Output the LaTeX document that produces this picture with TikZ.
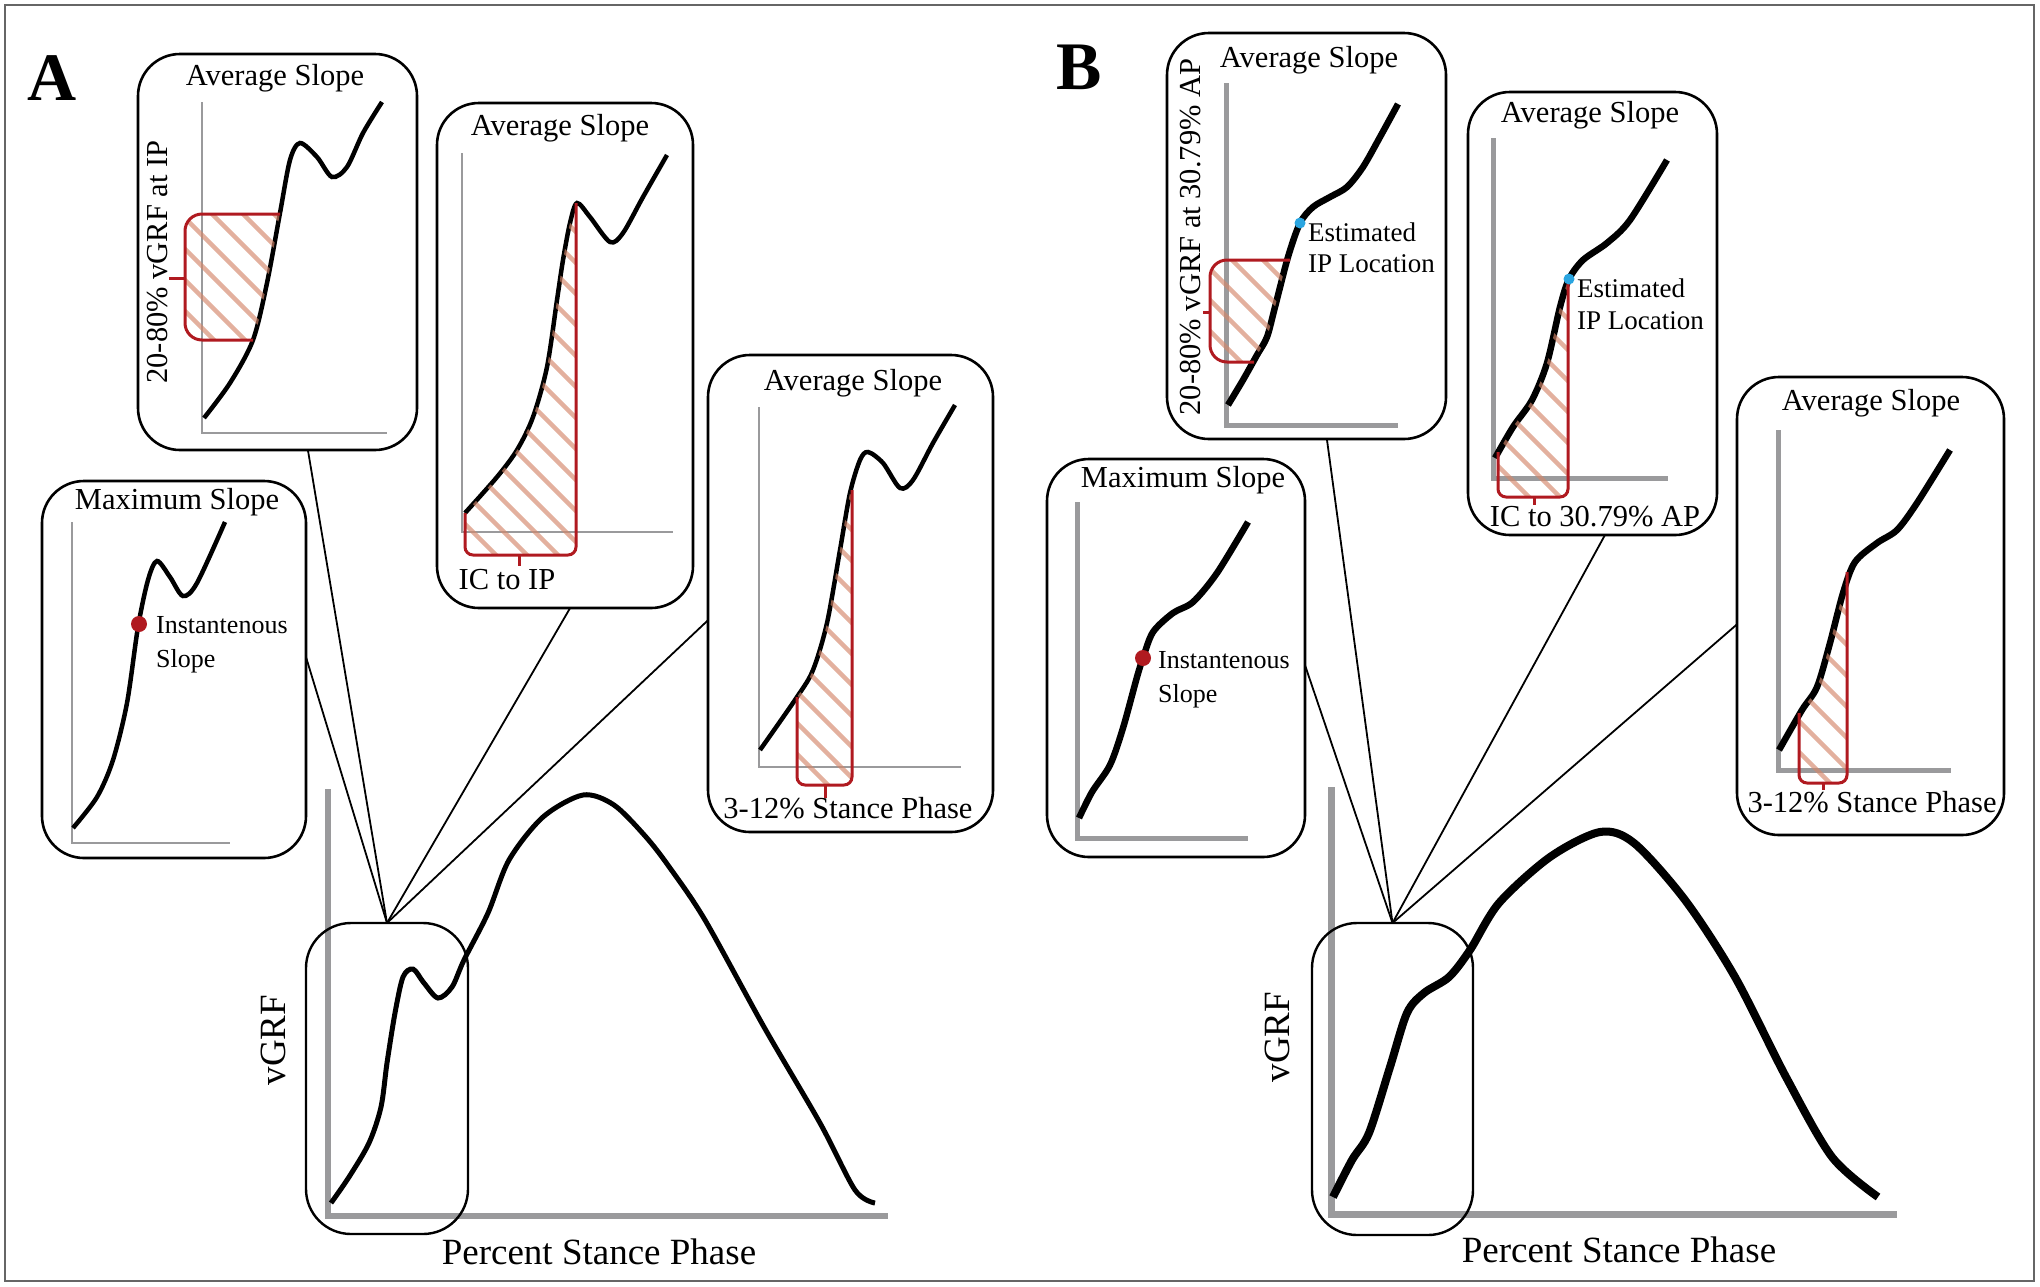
\documentclass[tikz,border=0pt]{standalone}
\usepackage{fontspec}
\setmainfont{Liberation Serif}
\usetikzlibrary{calc}
\definecolor{redb}{HTML}{B01A20}
\definecolor{hatchc}{HTML}{D4876A}
\definecolor{axg}{HTML}{9A9A9C}
\definecolor{blued}{HTML}{2AA5E0}
\newcommand\myhatch[4]{\foreach \c in {#1,#2,...,#3} \draw[hatchln] (\c-300,#4-300) -- (\c+450,#4+450);}
\begin{document}
\begin{tikzpicture}[x=1pt,y=-1pt,
  panelbox/.style={draw=black, line width=2.6pt, rounded corners=42pt, rectangle, inner sep=0pt, outer sep=0pt},
  zoombox/.style={draw=black, line width=2.4pt, rounded corners=45pt, rectangle, inner sep=0pt, outer sep=0pt},
  conn/.style={draw=black, line width=1.8pt},
  axA/.style={draw=axg, line width=2pt},
  axB/.style={draw=axg, line width=5pt},
  axMA/.style={draw=axg, line width=6pt},
  axMB/.style={draw=axg, line width=7pt},
  crvA/.style={draw=black, line width=4.5pt},
  crvB/.style={draw=black, line width=6.5pt},
  crvMA/.style={draw=black, line width=5pt},
  crvMB/.style={draw=black, line width=8pt},
  title/.style={font=\fontsize{30.5}{36}\selectfont, inner sep=0pt},
  small/.style={font=\fontsize{26}{34}\selectfont, align=left, inner sep=0pt, anchor=west},
  axlbl/.style={font=\fontsize{37}{44}\selectfont, inner sep=0pt},
  plbl/.style={font=\bfseries\fontsize{68}{80}\selectfont, inner sep=0pt},
  brk/.style={draw=redb, line width=3pt},
  hatchln/.style={draw=hatchc, line width=4.5pt, opacity=0.65},
  reddot/.style={fill=redb, circle, inner sep=0pt, minimum size=16pt},
  bluedot/.style={fill=blued, circle, inner sep=0pt, minimum size=11pt}
]
\useasboundingbox (0,0) rectangle (2040,1286);
\fill[white] (0,0) rectangle (2040,1286);
\draw[draw=black!60, line width=1.5pt] (5,5) rectangle (2034,1281);

% ================= PANEL A =================
\node[plbl] (labA) at (52,78) {A};

% ---- A1: Average slope 20-80% ----
\node[panelbox, minimum width=279pt, minimum height=396pt] (a1) at (277.5,252) {};
\node[title] (a1t) at (275,78) {Average Slope};
\draw[axA] (202,102) -- (202,433) -- (387,433);
\draw[crvA] plot[smooth] coordinates {(204,418) (230,383) (253,340) (267,283) (280,213) (290,160) (300,143) (317,157) (332,177) (347,167) (363,133) (382,102)};
\begin{scope}
\clip[rounded corners=17pt] (185,214) rectangle (300,340);
\clip plot[smooth] coordinates {(204,418) (230,383) (253,340) (267,283) (280,213) (290,160) (300,143) (317,157) (332,177) (347,167) (363,133) (382,102)} -- (382,0) -- (100,0) -- (100,418) -- cycle;
\myhatch{57}{88}{305}{214}
\end{scope}
\draw[brk, rounded corners=17pt] (280,214) -- (185,214) -- (185,340) -- (253,340);
\draw[brk] (169,278) -- (185,278);
\node[title, rotate=90] (a1l) at (158,262) {20-80\% vGRF at IP};

% ---- A2: Average slope IC to IP ----
\node[panelbox, minimum width=256pt, minimum height=505pt] (a2) at (565,355.5) {};
\node[title] (a2t) at (560,128) {Average Slope};
\draw[axA] (462,153) -- (462,532) -- (673,532);
\draw[crvA] plot[smooth] coordinates {(465,513) (497,477) (517,450) (533,417) (547,367) (557,300) (563,260) (570,223) (577,203) (590,217) (610,242) (623,233) (643,197) (667,155)};
\begin{scope}
\clip[rounded corners=8pt] (465,200) rectangle (576,555);
\clip plot[smooth] coordinates {(465,513) (497,477) (517,450) (533,417) (547,367) (557,300) (563,260) (570,223) (577,203) (590,217) (610,242) (623,233) (643,197) (667,155)} -- (667,1286) -- (400,1286) -- (400,513) -- cycle;
\myhatch{113}{144}{580}{203}
\end{scope}
\draw[brk, rounded corners=8pt] (465,513) -- (465,555) -- (576,555) -- (576,203);
\draw[brk] (519,555) -- (519,566);
\node[title] (a2b) at (507,580) {IC to IP};

% ---- A3: Average slope 3-12% ----
\node[panelbox, minimum width=285pt, minimum height=477pt] (a3) at (850.5,593.5) {};
\node[title] (a3t) at (853,383) {Average Slope};
\draw[axA] (759,407) -- (759,767) -- (961,767);
\draw[crvA] plot[smooth] coordinates {(760,750) (797,697) (813,670) (827,623) (840,550) (850,493) (860,460) (868,452) (883,463) (900,488) (913,480) (933,443) (955,405)};
\begin{scope}
\clip[rounded corners=8pt] (797,450) rectangle (852,785);
\clip plot[smooth] coordinates {(760,750) (797,697) (813,670) (827,623) (840,550) (850,493) (860,460) (868,452) (883,463) (900,488) (913,480) (933,443) (955,405)} -- (955,1286) -- (700,1286) -- (700,750) -- cycle;
\myhatch{462}{493}{860}{450}
\end{scope}
\draw[brk, rounded corners=8pt] (797,697) -- (797,785) -- (852,785) -- (852,490);
\draw[brk] (825,785) -- (825,798);
\node[title] (a3b) at (848,808) {3-12\% Stance Phase};

% ---- A max slope ----
\node[panelbox, minimum width=264pt, minimum height=377pt] (am) at (174,669.5) {};
\node[title] (amt) at (177,502) {Maximum Slope};
\draw[axA] (72,522) -- (72,843) -- (230,843);
\draw[crvA] plot[smooth] coordinates {(73,828) (97,797) (113,760) (127,703) (138,627) (148,580) (157,561) (170,577) (183,596) (197,583) (225,522)};
\node[reddot] (amd) at (139,624) {};
\node[small] (amtxt) at (156,644.5) {Instantenous\\Slope};

% ---- A main graph ----
\draw[axMA] (328,789) -- (328,1216) -- (888,1216);
\draw[crvMA] plot[smooth] coordinates {(331,1203) (349,1177) (369,1143) (381,1107) (387,1063) (395,1013) (403,977) (413,969) (424,983) (438,998) (452,987) (464,960) (488,913) (509,860) (543,817) (583,795) (614,805) (646,837) (670,868) (705,920) (764,1027) (820,1123) (855,1190) (875,1203)};
\node[zoombox, minimum width=162pt, minimum height=311pt] (za) at (387,1078.5) {};
\node[axlbl, rotate=90] (avg) at (273,1040) {vGRF};
\node[axlbl] (apsp) at (599,1252) {Percent Stance Phase};

\draw[conn] (za.north) -- ($(a1.south west)!0.609!(a1.south east)$);
\draw[conn] (za.north) -- ($(am.north east)!0.467!(am.south east)$);
\draw[conn] (za.north) -- ($(a2.south west)!0.52!(a2.south east)$);
\draw[conn] (za.north) -- ($(a3.north west)!0.556!(a3.south west)$);

% ================= PANEL B =================
\node[plbl] (labB) at (1079,67) {B};

% ---- B1 ----
\node[panelbox, minimum width=279pt, minimum height=406pt] (b1) at (1306.5,236) {};
\node[title] (b1t) at (1309,60) {Average Slope};
\draw[axB] (1226,83) -- (1226,425) -- (1398,425);
\draw[crvB] plot[smooth] coordinates {(1228,405) (1243,380) (1257,355) (1267,337) (1275,307) (1288,257) (1300,223) (1313,207) (1330,197) (1347,187) (1363,167) (1380,137) (1398,104)};
\begin{scope}
\clip[rounded corners=17pt] (1210,260) rectangle (1300,362);
\clip plot[smooth] coordinates {(1228,405) (1243,380) (1257,355) (1267,337) (1275,307) (1288,257) (1300,223) (1313,207) (1330,197) (1347,187) (1363,167) (1380,137) (1398,104)} -- (1398,0) -- (1150,0) -- (1150,405) -- cycle;
\myhatch{1108}{1139}{1310}{260}
\end{scope}
\draw[brk, rounded corners=17pt] (1290,260) -- (1210,260) -- (1210,362) -- (1254,362);
\draw[brk] (1203,312) -- (1210,312);
\node[bluedot] (b1d) at (1300,223) {};
\node[small, font=\fontsize{27}{31}\selectfont] (b1txt) at (1308,247.5) {Estimated\\IP Location};
\node[title, rotate=90] (b1l) at (1191,237) {20-80\% vGRF at 30.79\% AP};

% ---- B2 ----
\node[panelbox, minimum width=249pt, minimum height=443pt] (b2) at (1592.5,313.5) {};
\node[title] (b2t) at (1590,115) {Average Slope};
\draw[axB] (1493,138) -- (1493,478) -- (1668,478);
\draw[crvB] plot[smooth] coordinates {(1495,458) (1513,427) (1532,400) (1547,363) (1560,307) (1569,279) (1583,260) (1607,243) (1630,220) (1667,160)};
\begin{scope}
\clip[rounded corners=8pt] (1498,270) rectangle (1568,497);
\clip plot[smooth] coordinates {(1495,458) (1513,427) (1532,400) (1547,363) (1560,307) (1569,279) (1583,260) (1607,243) (1630,220) (1667,160)} -- (1667,1286) -- (1450,1286) -- (1450,458) -- cycle;
\myhatch{1280}{1311}{1580}{279}
\end{scope}
\draw[brk, rounded corners=8pt] (1498,452) -- (1498,497) -- (1568,497) -- (1568,279);
\draw[brk] (1534,497) -- (1534,505);
\node[bluedot] (b2d) at (1569,279) {};
\node[small, font=\fontsize{27}{32}\selectfont] (b2txt) at (1577,304) {Estimated\\IP Location};
\node[title] (b2b) at (1595,517) {IC to 30.79\% AP};

% ---- B3 ----
\node[panelbox, minimum width=267pt, minimum height=458pt] (b3) at (1870.5,606) {};
\node[title] (b3t) at (1871,403) {Average Slope};
\draw[axB] (1778,430) -- (1778,770) -- (1951,770);
\draw[crvB] plot[smooth] coordinates {(1779,750) (1802,710) (1817,687) (1830,643) (1843,593) (1855,562) (1877,543) (1897,530) (1917,503) (1950,450)};
\begin{scope}
\clip[rounded corners=8pt] (1799,560) rectangle (1847,783);
\clip plot[smooth] coordinates {(1779,750) (1802,710) (1817,687) (1830,643) (1843,593) (1855,562) (1877,543) (1897,530) (1917,503) (1950,450)} -- (1950,1286) -- (1740,1286) -- (1740,750) -- cycle;
\myhatch{1576}{1607}{1860}{560}
\end{scope}
\draw[brk, rounded corners=8pt] (1799,713) -- (1799,783) -- (1847,783) -- (1847,572);
\draw[brk] (1823,783) -- (1823,790);
\node[title] (b3b) at (1872,802) {3-12\% Stance Phase};

% ---- B max slope ----
\node[panelbox, minimum width=258pt, minimum height=398pt] (bm) at (1176,658) {};
\node[title] (bmt) at (1183,480) {Maximum Slope};
\draw[axB] (1077,502) -- (1077,838) -- (1248,838);
\draw[crvB] plot[smooth] coordinates {(1079,818) (1092,792) (1110,765) (1123,728) (1137,677) (1143,658) (1153,632) (1173,613) (1193,602) (1217,573) (1248,522)};
\node[reddot] (bmd) at (1143,658) {};
\node[small] (bmtxt) at (1158,680) {Instantenous\\Slope};

% ---- B main graph ----
\draw[axMB] (1331,787) -- (1331,1214) -- (1897,1214);
\draw[crvMB] plot[smooth] coordinates {(1333,1197) (1352,1160) (1369,1133) (1390,1067) (1407,1013) (1424,993) (1449,977) (1470,950) (1499,903) (1550,857) (1600,832) (1634,843) (1685,900) (1735,977) (1786,1077) (1832,1157) (1878,1197)};
\node[zoombox, minimum width=161pt, minimum height=312pt] (zb) at (1392.5,1079) {};
\node[axlbl, rotate=90] (bvg) at (1277,1037) {vGRF};
\node[axlbl] (bpsp) at (1619,1250) {Percent Stance Phase};

\draw[conn] (zb.north) -- ($(b1.south west)!0.573!(b1.south east)$);
\draw[conn] (zb.north) -- ($(bm.north east)!0.518!(bm.south east)$);
\draw[conn] (zb.north) -- ($(b2.south west)!0.55!(b2.south east)$);
\draw[conn] (zb.north) -- ($(b3.north west)!0.54!(b3.south west)$);
\end{tikzpicture}
\end{document}
